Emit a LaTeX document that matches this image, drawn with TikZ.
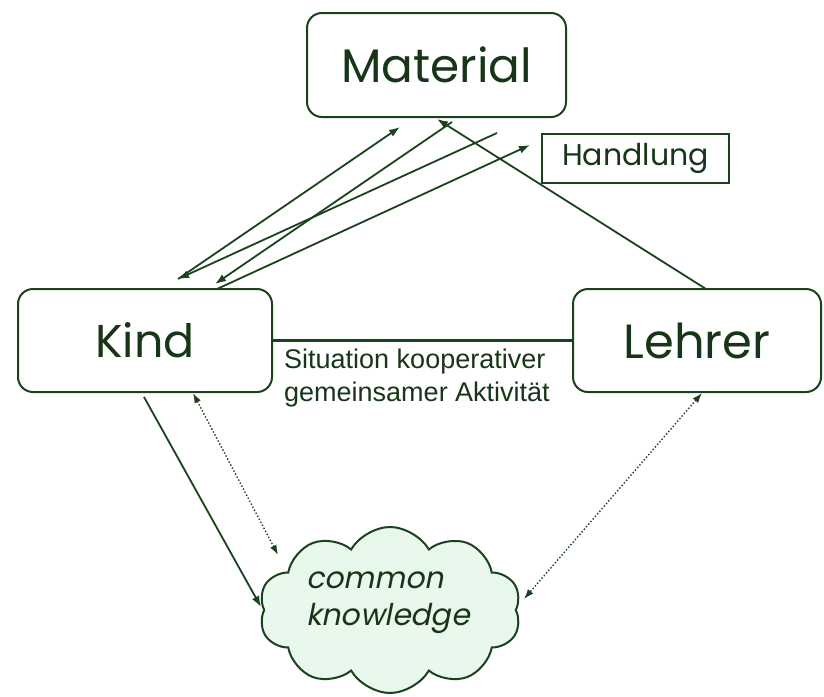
\documentclass[tikz,border=0pt]{standalone}
\usepackage{fontspec}
\setmainfont{Liberation Sans}
\newfontfamily\gothic{Poppins}
\newfontfamily\gothicit[FakeSlant=0.2]{Poppins}
\usetikzlibrary{arrows.meta,shapes.symbols}
\definecolor{dg}{HTML}{1C421D}
\definecolor{txt}{HTML}{163617}
\definecolor{cloudfill}{HTML}{E8F8EC}
\tikzset{
  box/.style={draw=dg, line width=2pt, rounded corners=15pt, fill=white, inner sep=0pt, text=txt},
  sqbox/.style={draw=dg, line width=2pt, fill=white, inner sep=0pt, text=txt},
  conn/.style={draw=dg, line width=1.8pt, -{Latex[length=11pt,width=8pt]}},
  dots/.style={draw=dg, line width=1.4pt, dotted, {Latex[length=10pt,width=7pt]}-{Latex[length=10pt,width=7pt]}},
  thick line/.style={draw=dg, line width=3.4pt},
}
\begin{document}
\begin{tikzpicture}[x=1pt,y=-1pt]
\useasboundingbox (0,0) rectangle (824,696);
% nodes
\node[box, minimum width=259pt, minimum height=104pt, font=\gothic\fontsize{47}{55}\selectfont] (Material) at (436.5,65) {Material};
\node[sqbox, minimum width=187pt, minimum height=49pt, font=\gothic\fontsize{30}{36}\selectfont] (Handlung) at (635.5,158.5) {Handlung};
\node[box, minimum width=254pt, minimum height=103pt, font=\gothic\fontsize{46}{55}\selectfont] (Kind) at (145,340.5) {Kind};
\node[box, minimum width=248pt, minimum height=103pt, font=\gothic\fontsize{48}{55}\selectfont] (Lehrer) at (697,340.5) {Lehrer};
\node[cloud, cloud puffs=10, cloud puff arc=120, aspect=1.5, draw=dg, line width=2pt,
      fill=cloudfill, minimum width=262pt, minimum height=166pt, inner sep=0pt] (Cloud) at (390,610) {};
\node[text=txt, align=left, anchor=west, inner sep=0pt, font=\gothicit\fontsize{30}{37}\selectfont] (CK) at (306,603) {common\\knowledge};
\node[text=txt, align=left, anchor=north west, inner sep=0pt, font=\fontsize{27}{33}\selectfont] (Sit) at (284,349) {Situation kooperativer\\gemeinsamer Aktivität};
% coordinates
\coordinate (a1s) at (178,279);
\coordinate (a1e) at (400,127);
\coordinate (a2s) at (452,122);
\coordinate (a2e) at (215,284);
\coordinate (a3s) at (497,133);
\coordinate (a3e) at (178,279);
\coordinate (a4s) at (217,289);
\coordinate (a4e) at (530,145);
\coordinate (a5s) at (706,289);
\coordinate (a5e) at (437,119);
\coordinate (a6s) at (144,397);
\coordinate (a6e) at (261,607);
\coordinate (d1s) at (193,393);
\coordinate (d1e) at (278,555);
\coordinate (d2s) at (702,393);
\coordinate (d2e) at (524,599);
% connectors
\draw[conn] (a1s) -- (a1e);
\draw[conn] (a2s) -- (a2e);
\draw[conn] (a3s) -- (a3e);
\draw[conn] (a4s) -- (a4e);
\draw[conn] (a5s) -- (a5e);
\draw[conn] (a6s) -- (a6e);
\draw[dots] (d1s) -- (d1e);
\draw[dots] (d2s) -- (d2e);
\draw[thick line] (Kind.east) -- (Lehrer.west);
\end{tikzpicture}
\end{document}
